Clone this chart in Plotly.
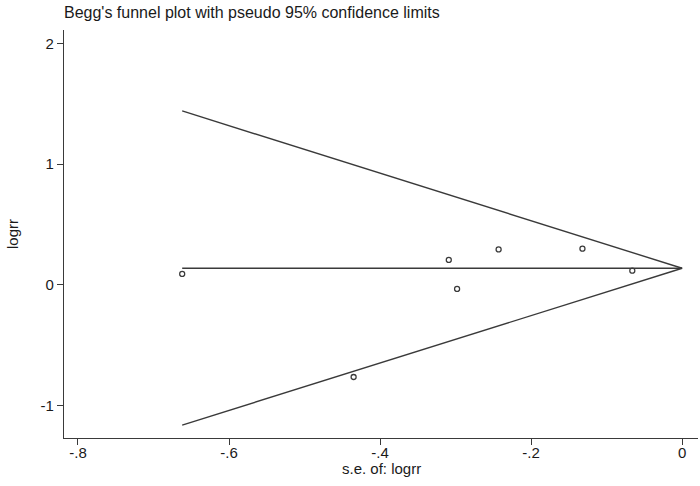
import plotly.graph_objects as go

# Study points (x = -s.e., y = logrr)
neg_se = [-0.662, -0.435, -0.309, -0.298, -0.243, -0.132, -0.066]
logrr = [0.091, -0.762, 0.207, -0.033, 0.294, 0.300, 0.118]

# Pooled estimate line and pseudo 95% confidence limits
pooled_x = [-0.662, 0.0]
pooled_y = [0.138, 0.138]
upper_x = [-0.662, 0.0]
upper_y = [1.44, 0.138]
lower_x = [-0.662, 0.0]
lower_y = [-1.16, 0.138]

x_ticks = [-0.8, -0.6, -0.4, -0.2, 0.0]
x_tick_text = ["-.8", "-.6", "-.4", "-.2", "0"]
y_ticks = [-1, 0, 1, 2]
y_tick_text = ["-1", "0", "1", "2"]

line_color = "#3a3a3a"
text_color = "#1a1a1a"
font = dict(family="Liberation Sans, Arial, sans-serif", size=15, color=text_color)

fig = go.Figure()
for xs, ys in [(upper_x, upper_y), (lower_x, lower_y), (pooled_x, pooled_y)]:
    fig.add_trace(go.Scatter(x=xs, y=ys, mode="lines",
                             line=dict(color=line_color, width=1.4),
                             showlegend=False, hoverinfo="skip"))
fig.add_trace(go.Scatter(x=neg_se, y=logrr, mode="markers",
                         marker=dict(symbol="circle-open", size=5,
                                     color=line_color, line=dict(width=1.3)),
                         showlegend=False))

fig.update_layout(
    width=700, height=486,
    margin=dict(l=64, r=2, t=30, b=48),
    paper_bgcolor="white", plot_bgcolor="white",
    font=font,
    title=dict(text="Begg's funnel plot with pseudo 95% confidence limits",
               x=64 / 700, xanchor="left", y=1 - 12 / 486, yanchor="middle",
               font=dict(size=16, color=text_color), automargin=False),
    xaxis=dict(range=[-0.8185, 0.021], tickvals=x_ticks, ticktext=x_tick_text,
               showgrid=False, zeroline=False, showline=True,
               linecolor=line_color, linewidth=1.3,
               ticks="outside", ticklen=6, tickcolor=line_color,
               ticklabelstandoff=-5, automargin=False),
    yaxis=dict(range=[-1.267, 2.11], tickvals=y_ticks, ticktext=y_tick_text,
               showgrid=False, zeroline=False, showline=True,
               linecolor=line_color, linewidth=1.3,
               ticks="outside", ticklen=6, tickcolor=line_color,
               tickangle=0, automargin=False),
    annotations=[
        dict(text="s.e. of: logrr", xref="paper", yref="paper",
             x=0.5, y=-(468 - 438) / 408, xanchor="center", yanchor="middle",
             showarrow=False, font=dict(size=15, color=text_color)),
        dict(text="logrr", xref="paper", yref="paper",
             x=-(64 - 12) / 634, y=0.5, xanchor="center", yanchor="middle",
             textangle=-90, showarrow=False, font=dict(size=15, color=text_color)),
    ],
)

fig.write_html("out.html",
               config={"displayModeBar": False},
               post_script="document.body.style.margin='0';document.body.style.padding='0';")
